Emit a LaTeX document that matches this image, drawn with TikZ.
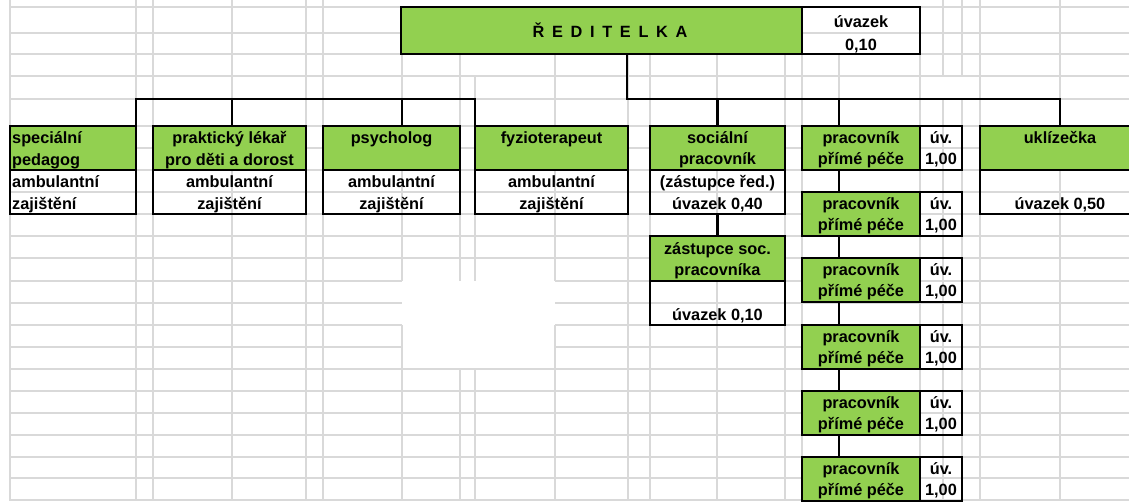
\documentclass[tikz,border=0pt]{standalone}
\usepackage{fontspec}
\setmainfont{Liberation Sans}
\usetikzlibrary{positioning}
\definecolor{SheetInk}{HTML}{000000}
\definecolor{SheetGrid}{HTML}{D9D9D9}
\definecolor{SheetGreen}{HTML}{92D050}
\tikzset{
  org/box/.style={
    draw=SheetInk, line width=2.9pt, inner sep=0pt, outer sep=0pt,
    anchor=north west
  },
  org/head/.style={org/box, fill=SheetGreen, minimum height=44pt},
  org/cell/.style={org/box, minimum height=44pt},
  org/text/.style={
    font=\fontsize{16.3}{20}\selectfont\bfseries, text=SheetInk,
    anchor=base, inner sep=0pt
  },
  org/lefttext/.style={org/text, anchor=base west},
  org/link/.style={line width=2.9pt, draw=SheetInk},
  org/grid/.style={line width=1.3pt, draw=SheetGrid}
}

\begin{document}
\begin{tikzpicture}[x=1pt,y=-1pt]
  \useasboundingbox (0,0) rectangle (1129,501);
  \clip (0,0) rectangle (1129,501);
  % sheet grid
  \foreach \y in {7,33,54,76,99,126,148,170,192,214,236,258,369,391,413,435,457,478,500}
    \draw[org/grid] (10,\y) -- (1129,\y);
  \foreach \y in {281,303,325,347}{
    \draw[org/grid] (10,\y) -- (402,\y);
    \draw[org/grid] (555,\y) -- (1129,\y);
  }
  \foreach \x/\a/\b in {10/0/501,136/0/501,153/0/501,232/0/501,306/0/501,323/0/501,
      402/54/281,402/325/501,460/54/281,460/369/501,475/76/281,475/369/501,
      555/54/281,555/325/501,628/54/501,650/54/501,717/54/501,785/54/501,
      802/54/501,839/54/501,920/54/501,943/0/76,943/99/501,962/0/76,962/99/501,
      980/0/501,1060/0/501}
    \draw[org/grid] (\x,\a) -- (\x,\b);

  % director
  \node[org/head,minimum width=401pt,minimum height=47pt] (dir) at (401,7) {};
  \node[org/box,minimum width=118pt,minimum height=47pt] (dirfte) at (802,7) {};
  \node[org/text] (dirname) at (610,37) {\spaceskip=7.7pt Ř E D I T E L K A};
  \node[org/text] (dirfte1) at (861,27) {úvazek};
  \node[org/text] (dirfte2) at (861,50.5) {0,10};

  % outpatient boxes
  \node[org/head,minimum width=126pt] (spec) at (10,126) {};
  \node[org/cell,minimum width=126pt] (specinfo) at (10,170) {};
  \node[org/head,minimum width=153pt] (doctor) at (153,126) {};
  \node[org/cell,minimum width=153pt] (doctorinfo) at (153,170) {};
  \node[org/head,minimum width=137pt] (psych) at (323,126) {};
  \node[org/cell,minimum width=137pt] (psychinfo) at (323,170) {};
  \node[org/head,minimum width=153pt] (physio) at (475,126) {};
  \node[org/cell,minimum width=153pt] (physioinfo) at (475,170) {};

  \node[org/lefttext] (spec1) at (12,143) {speciální};
  \node[org/lefttext] (spec2) at (12,165) {pedagog};
  \node[org/lefttext] (spec3) at (12,187.5) {ambulantní};
  \node[org/lefttext] (spec4) at (12,209.5) {zajištění};
  \node[org/text] (doctor1) at (229.5,143.5) {praktický lékař};
  \node[org/text] (doctor2) at (229.5,165) {pro děti a dorost};
  \node[org/text] (doctor3) at (229.5,187.5) {ambulantní};
  \node[org/text] (doctor4) at (229.5,209.5) {zajištění};
  \node[org/text] (psych1) at (391.5,143) {psycholog};
  \node[org/text] (psych3) at (391.5,187.5) {ambulantní};
  \node[org/text] (psych4) at (391.5,209.5) {zajištění};
  \node[org/text] (physio1) at (551.5,143) {fyzioterapeut};
  \node[org/text] (physio3) at (551.5,187.5) {ambulantní};
  \node[org/text] (physio4) at (551.5,209.5) {zajištění};

  % social worker and deputy
  \node[org/head,minimum width=135pt] (social) at (650,126) {};
  \node[org/cell,minimum width=135pt] (socialinfo) at (650,170) {};
  \node[org/head,minimum width=135pt,minimum height=45pt] (deputy) at (650,236) {};
  \node[org/cell,minimum width=135pt] (deputyinfo) at (650,281) {};
  \node[org/text] (social1) at (717.5,143) {sociální};
  \node[org/text] (social2) at (717.5,164.5) {pracovník};
  \node[org/text] (social3) at (717.5,187.5) {(zástupce řed.)};
  \node[org/text] (social4) at (717.5,209.5) {úvazek 0,40};
  \node[org/text] (deputy1) at (717.5,254) {zástupce soc.};
  \node[org/text] (deputy2) at (717.5,275.5) {pracovníka};
  \node[org/text] (deputy4) at (717.5,320) {úvazek 0,10};

  % direct care staff
  \foreach \i/\t in {1/126,2/192,3/258,4/325,5/391,6/457}{
    \node[org/head,minimum width=118pt] (care\i) at (802,\t) {};
    \node[org/cell,minimum width=42pt] (carefte\i) at (920,\t) {};
    \node[org/text] (care\i a) at (861,\t+17.5) {pracovník};
    \node[org/text] (care\i b) at (861,\t+38) {přímé péče};
    \node[org/text] (carefte\i a) at (941,\t+17.5) {úv.};
    \node[org/text] (carefte\i b) at (941,\t+38) {1,00};
  }

  % cleaner
  \node[org/head,minimum width=160pt] (cleaner) at (980,126) {};
  \node[org/cell,minimum width=160pt] (cleanerinfo) at (980,170) {};
  \node[org/text] (cleaner1) at (1060,143) {uklízečka};
  \node[org/text] (cleaner4) at (1060,209) {úvazek 0,50};

  % connectors
  \coordinate (dirdrop) at (627,99);
  \coordinate (carex) at (839,99);
  \coordinate (psychx) at (402,99);
  \coordinate (leftend) at (475,99);
  \draw[org/link] (dir.south -| dirdrop) -- (dirdrop) -| (cleaner.north);
  \draw[org/link] (social.north) -- (social.north |- dirdrop);
  \draw[org/link] (carex) -- (carex |- care1.north);
  \draw[org/link] (spec.north east) |- (leftend) -- (physio.north west);
  \draw[org/link] (doctor.north -| 232,0) -- (leftend -| 232,0);
  \draw[org/link] (psychx) -- (psychx |- psych.north);
  \draw[org/link] (socialinfo.south) -- (deputy.north);
  \foreach \i/\j in {1/2,2/3,3/4,4/5,5/6}
    \draw[org/link] (carex |- care\i.south) -- (carex |- care\j.north);
\end{tikzpicture}
\end{document}
